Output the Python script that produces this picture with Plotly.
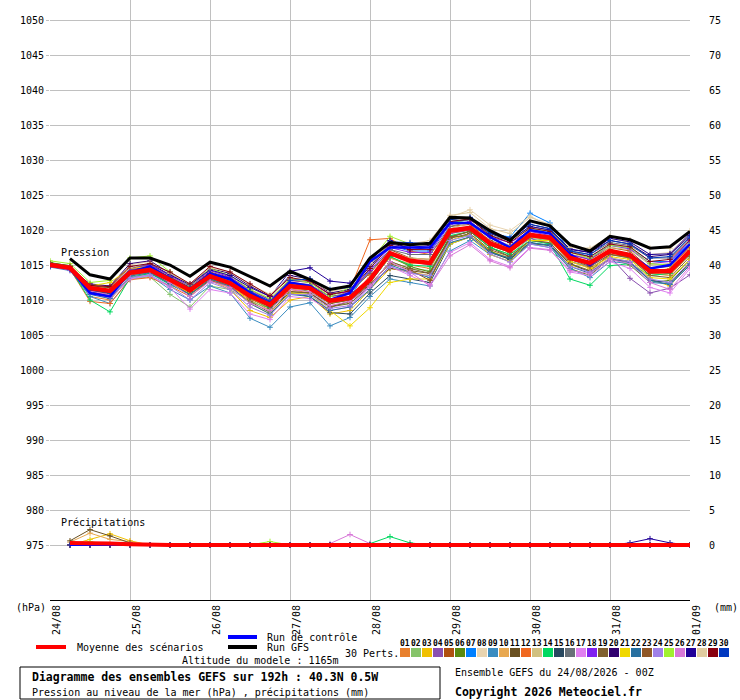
import pandas as pd
import plotly.graph_objects as go

# 6-hourly steps, 24/08 00Z -> 01/09 00Z (192h)
times = pd.date_range("2026-08-24 00:00", "2026-09-01 00:00", freq="6h")
day_ticks = pd.date_range("2026-08-24", "2026-09-01", freq="D")
day_labels = ["24/08", "25/08", "26/08", "27/08", "28/08", "29/08", "30/08", "31/08", "01/09"]

mean_slp = [1015.0, 1014.6, 1011.7, 1011.3, 1013.9, 1014.3, 1012.9, 1011.4, 1013.4, 1012.4, 1010.6,
            1009.3, 1012.0, 1011.7, 1009.9, 1010.3, 1012.9, 1016.7, 1015.6, 1015.3, 1019.9, 1020.3,
            1018.1, 1017.1, 1019.3, 1018.9, 1016.0, 1015.3, 1017.0, 1016.4, 1014.1, 1014.1, 1017.0]
gfs_slp = [None, 1015.9, 1013.6, 1013.0, 1016.0, 1016.0, 1015.0, 1013.4, 1015.4, 1014.7, 1013.4,
           1012.0, 1014.1, 1012.9, 1011.5, 1012.0, 1016.0, 1018.2, 1017.9, 1018.1, 1021.8, 1021.7,
           1019.9, 1018.5, 1021.3, 1020.6, 1017.9, 1017.0, 1019.1, 1018.6, 1017.4, 1017.6, 1019.8]
ctrl_slp = [1015.0, 1014.5, 1011.0, 1010.5, 1014.0, 1014.8, 1013.0, 1011.5, 1013.8, 1013.0, 1011.0,
            1009.5, 1012.5, 1012.0, 1010.0, 1011.0, 1015.5, 1017.5, 1017.5, 1017.5, 1021.0, 1021.0,
            1019.0, 1017.5, 1020.0, 1019.5, 1016.5, 1015.0, 1017.0, 1016.5, 1014.5, 1015.0, 1018.0]

perts_slp = [
    [1015.2, 1014.6, 1010.5, 1010.0, 1013.2, 1013.8, 1012.5, 1011.0, 1013.0, 1012.0, 1010.0, 1008.5, 1011.5, 1011.0, 1009.0, 1009.8, 1013.5, 1016.0, 1015.0, 1014.5, 1019.5, 1020.0, 1017.8, 1016.8, 1019.0, 1018.6, 1015.8, 1015.0, 1016.8, 1016.0, 1013.8, 1013.5, 1016.5],
    [1015.4, 1014.8, 1011.5, 1011.0, 1013.0, 1013.3, 1010.8, 1009.0, 1012.0, 1011.5, 1009.8, 1008.8, 1011.0, 1011.0, 1009.2, 1009.5, 1012.0, 1015.5, 1014.5, 1014.2, 1019.0, 1019.8, 1017.5, 1016.5, 1018.8, 1018.5, 1015.5, 1014.8, 1016.5, 1016.0, 1013.5, 1013.8, 1016.8],
    [1015.0, 1014.5, 1011.8, 1011.5, 1013.8, 1014.2, 1012.5, 1011.0, 1012.8, 1011.5, 1008.5, 1007.5, 1010.0, 1010.5, 1008.0, 1008.5, 1011.5, 1014.5, 1014.0, 1013.5, 1018.5, 1019.5, 1017.0, 1016.0, 1018.5, 1018.2, 1015.0, 1014.2, 1016.0, 1015.5, 1013.0, 1012.0, 1015.5],
    [1014.8, 1014.3, 1011.2, 1010.8, 1013.5, 1014.0, 1012.8, 1011.5, 1013.5, 1012.8, 1011.0, 1009.8, 1012.5, 1012.0, 1010.5, 1010.8, 1013.0, 1016.5, 1015.5, 1015.0, 1019.5, 1020.0, 1018.0, 1017.0, 1018.8, 1018.0, 1015.5, 1014.6, 1016.2, 1013.1, 1011.0, 1011.7, 1013.6],
    [1015.1, 1014.7, 1012.0, 1011.8, 1014.5, 1015.0, 1013.5, 1012.0, 1014.0, 1013.2, 1011.5, 1010.0, 1012.8, 1012.5, 1010.8, 1011.2, 1013.8, 1017.2, 1016.0, 1015.8, 1020.5, 1020.8, 1018.5, 1017.5, 1019.8, 1019.5, 1016.5, 1015.8, 1017.5, 1017.0, 1014.5, 1014.8, 1017.5],
    [1015.3, 1014.9, 1011.5, 1011.2, 1014.2, 1014.6, 1013.0, 1011.2, 1013.2, 1012.3, 1010.2, 1008.8, 1011.8, 1011.2, 1009.5, 1010.0, 1012.5, 1016.2, 1014.8, 1014.0, 1019.0, 1019.2, 1017.0, 1015.8, 1018.0, 1017.8, 1014.5, 1013.5, 1016.0, 1015.0, 1012.5, 1012.8, 1015.8],
    [1014.9, 1014.4, 1011.0, 1010.5, 1014.0, 1014.8, 1013.2, 1011.8, 1013.8, 1013.0, 1011.2, 1009.8, 1012.2, 1012.0, 1010.2, 1010.5, 1014.5, 1017.8, 1017.0, 1017.0, 1021.0, 1021.5, 1019.5, 1019.0, 1022.4, 1021.0, 1017.0, 1016.2, 1017.8, 1017.5, 1015.5, 1015.5, 1018.2],
    [1015.2, 1014.8, 1012.2, 1012.0, 1015.0, 1015.5, 1013.8, 1012.0, 1014.2, 1013.5, 1011.8, 1010.2, 1013.0, 1012.8, 1011.0, 1011.5, 1015.0, 1018.0, 1017.8, 1018.2, 1021.8, 1022.9, 1020.7, 1019.9, 1022.0, 1020.5, 1017.7, 1017.0, 1018.8, 1018.2, 1016.5, 1016.8, 1019.5],
    [1014.7, 1014.2, 1010.5, 1009.5, 1013.0, 1013.5, 1011.5, 1010.0, 1012.0, 1011.0, 1007.4, 1006.1, 1009.0, 1009.6, 1006.3, 1007.5, 1010.5, 1013.0, 1012.5, 1012.0, 1017.0, 1018.5, 1016.5, 1015.5, 1018.0, 1017.5, 1014.5, 1013.2, 1015.5, 1015.2, 1012.5, 1012.3, 1015.0],
    [1015.0, 1014.6, 1011.3, 1011.0, 1013.5, 1014.0, 1012.6, 1011.2, 1013.2, 1012.2, 1010.5, 1009.0, 1011.5, 1011.5, 1009.5, 1010.2, 1012.8, 1016.0, 1015.2, 1015.5, 1019.8, 1020.5, 1018.2, 1017.2, 1019.5, 1019.0, 1016.0, 1015.2, 1017.2, 1016.5, 1014.0, 1013.5, 1016.8],
    [1015.3, 1014.9, 1012.0, 1011.7, 1014.3, 1014.8, 1013.3, 1011.8, 1013.8, 1012.8, 1010.8, 1009.5, 1011.2, 1011.0, 1009.0, 1009.8, 1012.2, 1014.5, 1014.2, 1013.8, 1019.0, 1019.8, 1017.5, 1016.2, 1018.5, 1018.5, 1015.8, 1015.3, 1016.8, 1016.5, 1014.2, 1014.2, 1017.0],
    [1015.0, 1014.4, 1009.8, 1009.5, 1012.9, 1013.2, 1012.0, 1010.5, 1012.8, 1012.0, 1010.2, 1009.0, 1011.8, 1011.5, 1009.8, 1011.5, 1018.6, 1018.8, 1017.0, 1016.5, 1020.0, 1020.5, 1018.0, 1017.0, 1019.5, 1019.0, 1016.2, 1015.0, 1017.0, 1016.2, 1014.0, 1014.5, 1017.8],
    [1015.1, 1014.7, 1011.8, 1011.5, 1014.0, 1014.5, 1013.0, 1011.5, 1013.5, 1012.5, 1010.8, 1009.2, 1012.0, 1011.8, 1010.0, 1010.5, 1013.2, 1016.8, 1016.0, 1015.8, 1020.2, 1021.0, 1018.8, 1017.8, 1020.0, 1019.5, 1016.5, 1016.0, 1017.5, 1017.2, 1015.0, 1015.2, 1018.0],
    [1015.2, 1014.5, 1010.0, 1008.3, 1013.2, 1013.8, 1012.2, 1010.8, 1013.0, 1012.2, 1010.5, 1009.0, 1012.2, 1011.8, 1009.8, 1010.2, 1012.5, 1016.2, 1015.0, 1014.8, 1019.2, 1019.8, 1017.5, 1016.5, 1018.5, 1018.0, 1013.0, 1012.1, 1014.9, 1015.2, 1013.5, 1013.8, 1016.5],
    [1014.9, 1014.5, 1011.2, 1010.6, 1013.8, 1014.2, 1012.8, 1011.2, 1013.3, 1012.5, 1010.5, 1009.0, 1011.0, 1010.5, 1008.2, 1008.0, 1011.0, 1013.5, 1013.0, 1012.5, 1018.0, 1019.0, 1016.8, 1015.8, 1018.2, 1017.8, 1015.2, 1014.0, 1015.8, 1015.5, 1012.8, 1012.5, 1015.2],
    [1015.0, 1014.6, 1011.5, 1011.0, 1014.2, 1014.6, 1013.2, 1011.6, 1013.6, 1012.8, 1011.0, 1009.6, 1012.5, 1012.2, 1010.5, 1011.0, 1014.0, 1017.2, 1016.5, 1016.5, 1020.5, 1021.2, 1019.2, 1018.5, 1020.5, 1020.0, 1017.0, 1016.5, 1018.2, 1017.8, 1016.0, 1016.0, 1018.8],
    [1015.2, 1014.8, 1011.0, 1010.2, 1013.0, 1013.5, 1011.8, 1008.7, 1011.5, 1011.0, 1008.0, 1007.2, 1010.5, 1010.2, 1008.5, 1009.0, 1011.8, 1014.8, 1013.5, 1012.2, 1016.8, 1018.2, 1015.8, 1014.8, 1017.5, 1017.2, 1014.0, 1013.5, 1015.5, 1014.5, 1011.8, 1011.0, 1014.5],
    [1014.8, 1014.3, 1011.6, 1011.3, 1014.4, 1015.0, 1013.5, 1012.0, 1014.2, 1013.3, 1011.3, 1010.0, 1012.8, 1012.6, 1010.8, 1011.2, 1014.2, 1017.5, 1016.8, 1016.8, 1020.8, 1021.2, 1019.0, 1018.2, 1019.8, 1019.2, 1016.5, 1015.8, 1017.8, 1017.3, 1015.2, 1015.5, 1018.5],
    [1015.1, 1014.6, 1011.4, 1010.9, 1013.6, 1014.0, 1012.4, 1010.8, 1012.8, 1011.8, 1009.8, 1008.2, 1011.2, 1011.0, 1009.0, 1009.5, 1012.0, 1015.5, 1014.5, 1013.8, 1018.8, 1019.5, 1017.2, 1016.2, 1018.5, 1018.2, 1015.2, 1014.2, 1016.5, 1016.0, 1013.5, 1013.2, 1016.2],
    [1014.9, 1014.5, 1012.3, 1012.0, 1015.2, 1015.6, 1013.8, 1012.2, 1014.5, 1013.8, 1012.0, 1010.5, 1013.5, 1013.0, 1011.0, 1011.5, 1014.8, 1018.0, 1017.5, 1017.8, 1021.5, 1021.8, 1019.8, 1018.8, 1020.8, 1020.2, 1017.2, 1016.8, 1018.5, 1018.0, 1016.2, 1016.5, 1019.2],
    [1015.0, 1014.5, 1012.0, 1012.5, 1014.5, 1014.8, 1013.0, 1011.5, 1013.5, 1012.5, 1009.5, 1008.0, 1011.0, 1010.8, 1008.5, 1006.3, 1008.9, 1012.5, 1013.0, 1013.0, 1018.0, 1019.0, 1016.5, 1015.5, 1018.5, 1018.5, 1015.5, 1014.5, 1016.2, 1015.8, 1013.2, 1013.0, 1015.8],
    [1015.0, 1014.4, 1010.8, 1010.2, 1013.4, 1013.9, 1012.3, 1010.8, 1013.0, 1012.0, 1009.5, 1008.0, 1010.8, 1010.5, 1008.5, 1009.0, 1011.5, 1015.0, 1014.0, 1013.2, 1018.2, 1019.0, 1016.8, 1016.0, 1018.2, 1017.8, 1014.8, 1013.8, 1015.8, 1015.3, 1012.8, 1012.2, 1015.0],
    [1015.2, 1014.7, 1011.7, 1011.4, 1013.8, 1014.2, 1012.7, 1011.3, 1013.3, 1012.3, 1010.4, 1009.2, 1011.8, 1011.5, 1009.5, 1010.0, 1012.3, 1015.2, 1014.3, 1012.8, 1019.0, 1019.8, 1017.8, 1016.8, 1019.2, 1018.8, 1015.8, 1014.8, 1016.5, 1016.2, 1013.8, 1014.0, 1016.8],
    [1015.0, 1014.5, 1011.0, 1010.4, 1013.2, 1013.6, 1012.0, 1010.0, 1012.5, 1011.5, 1009.0, 1007.8, 1010.8, 1010.8, 1008.8, 1009.2, 1012.0, 1014.8, 1013.8, 1013.5, 1018.5, 1019.2, 1016.6, 1015.4, 1018.0, 1017.5, 1014.8, 1014.0, 1016.0, 1015.5, 1013.0, 1012.5, 1015.5],
    [1015.6, 1015.2, 1012.5, 1012.8, 1016.0, 1016.3, 1014.0, 1012.0, 1014.5, 1013.5, 1011.5, 1010.2, 1013.0, 1012.5, 1010.5, 1011.8, 1015.5, 1019.1, 1018.0, 1018.0, 1021.0, 1021.5, 1019.5, 1018.5, 1020.2, 1019.8, 1016.8, 1016.0, 1017.8, 1017.5, 1015.2, 1015.0, 1018.0],
    [1014.9, 1014.3, 1011.3, 1010.7, 1013.7, 1014.2, 1012.5, 1010.5, 1012.7, 1011.8, 1009.5, 1008.5, 1011.5, 1011.2, 1009.2, 1009.8, 1012.0, 1015.5, 1014.0, 1012.0, 1016.3, 1017.9, 1015.6, 1014.6, 1017.4, 1017.1, 1014.2, 1013.8, 1015.8, 1015.2, 1012.5, 1011.5, 1014.8],
    [1015.0, 1014.6, 1011.8, 1011.5, 1014.6, 1015.2, 1013.6, 1012.2, 1014.3, 1013.5, 1011.8, 1010.5, 1014.1, 1014.6, 1012.7, 1012.4, 1015.5, 1018.5, 1017.2, 1017.5, 1021.2, 1021.5, 1019.5, 1018.5, 1020.5, 1020.0, 1017.3, 1016.8, 1018.8, 1018.3, 1016.5, 1016.6, 1019.5],
    [1015.1, 1014.7, 1011.9, 1011.6, 1014.6, 1015.3, 1013.8, 1012.3, 1014.6, 1014.0, 1012.2, 1010.8, 1013.2, 1012.8, 1011.2, 1011.8, 1015.2, 1018.2, 1018.0, 1018.5, 1022.1, 1022.5, 1020.2, 1019.5, 1021.8, 1020.8, 1017.5, 1017.4, 1019.1, 1018.6, 1017.4, 1017.4, 1019.9],
    [1015.2, 1014.8, 1012.1, 1011.9, 1014.8, 1015.2, 1014.0, 1012.3, 1014.8, 1014.0, 1012.3, 1010.6, 1013.2, 1012.7, 1010.8, 1011.3, 1014.5, 1017.8, 1017.2, 1017.2, 1021.2, 1021.6, 1019.2, 1018.2, 1020.3, 1019.8, 1016.8, 1016.2, 1018.0, 1017.6, 1015.5, 1015.8, 1018.6],
    [1014.9, 1014.4, 1011.4, 1011.0, 1014.0, 1014.6, 1013.2, 1011.7, 1013.7, 1012.9, 1011.2, 1009.8, 1012.8, 1013.0, 1011.5, 1011.8, 1015.8, 1018.3, 1018.2, 1018.0, 1021.5, 1021.8, 1019.6, 1018.8, 1020.8, 1020.2, 1017.0, 1016.5, 1018.5, 1018.0, 1016.0, 1016.2, 1019.0],
]

pert_colors = ["#e8802e", "#86c46a", "#f0c000", "#8a50b0", "#b05010", "#5a8a10", "#0080ff", "#e8d4b0",
               "#3a8cc0", "#e8a850", "#6a5020", "#f06820", "#d0c080", "#00d860", "#284860", "#687078",
               "#e080f0", "#8020f0", "#806030", "#300070", "#f0d800", "#2870a0", "#905828", "#a080e8",
               "#a0f030", "#d878d8", "#200098", "#e0cca0", "#880010", "#0038c0"]
pert_names = ["01", "02", "03", "04", "05", "06", "07", "08", "09", "10", "11", "12", "13", "14", "15",
              "16", "17", "18", "19", "20", "21", "22", "23", "24", "25", "26", "27", "28", "29", "30"]

# precipitation (mm), from +6h to +192h
no_rain = [0, 0, 0, 0, 0, 0, 0, 0, 0, 0, 0, 0, 0, 0, 0, 0, 0, 0, 0, 0, 0, 0, 0, 0, 0, 0, 0, 0, 0, 0, 0, 0]
rain_03 = [0, 0.8, 1.6, 0.6, 0, 0, 0, 0, 0, 0, 0, 0, 0, 0, 0, 0, 0, 0, 0, 0, 0, 0, 0, 0, 0, 0, 0, 0, 0, 0, 0, 0]
rain_10 = [0.4, 1.7, 0.8, 0.5, 0, 0, 0, 0, 0, 0, 0, 0, 0, 0, 0, 0, 0, 0, 0, 0, 0, 0, 0, 0, 0, 0, 0, 0, 0, 0, 0, 0]
rain_11 = [0.6, 2.2, 1.3, 0.3, 0, 0, 0, 0, 0, 0, 0, 0, 0, 0, 0, 0, 0, 0, 0, 0, 0, 0, 0, 0, 0, 0, 0, 0, 0, 0, 0, 0]
rain_14 = [0, 0, 0, 0, 0, 0, 0, 0, 0, 0, 0, 0, 0, 0, 0, 0.2, 1.2, 0.3, 0, 0, 0, 0, 0, 0, 0, 0, 0, 0, 0, 0, 0, 0]
rain_25 = [0, 0.5, 0, 0, 0, 0, 0, 0, 0, 0, 0.5, 0, 0, 0, 0, 0, 0, 0, 0, 0, 0, 0, 0, 0, 0, 0, 0, 0, 0, 0, 0, 0]
rain_26 = [0, 0, 0, 0, 0, 0, 0, 0, 0, 0, 0, 0, 0, 0.2, 1.5, 0.2, 0, 0, 0, 0, 0, 0, 0, 0, 0, 0, 0, 0, 0, 0, 0, 0]
rain_27 = [0, 0, 0, 0, 0, 0, 0, 0, 0, 0, 0, 0, 0, 0, 0, 0, 0, 0, 0, 0, 0, 0, 0, 0, 0, 0, 0, 0, 0.3, 0.9, 0.3, 0]
rain_mean = [0.3, 0.3, 0.2, 0.1, 0, 0, 0, 0, 0, 0, 0, 0, 0, 0, 0, 0, 0, 0, 0, 0, 0, 0, 0, 0, 0, 0, 0, 0, 0, 0, 0, 0]
pert_rain = {"03": rain_03, "10": rain_10, "11": rain_11, "14": rain_14, "25": rain_25, "26": rain_26, "27": rain_27}

GRID = "#c0c0c0"
FONT = "DejaVu Sans Mono"
W, H = 740, 700
L, R, T, B = 50, 690, 0, 600


def px(x):
    return (x - L) / (R - L)


def py(y):
    return (B - y) / (B - T)


fig = go.Figure()
rain_times = times[1:]

for name, col, vals in zip(pert_names, pert_colors, perts_slp):
    fig.add_trace(go.Scatter(x=times, y=vals, mode="lines+markers", line=dict(color=col, width=1),
                             marker=dict(symbol="cross-thin", size=4, line=dict(color=col, width=1)),
                             showlegend=False, hoverinfo="skip"))
    fig.add_trace(go.Scatter(x=rain_times, y=pert_rain.get(name, no_rain), yaxis="y2", mode="lines+markers",
                             line=dict(color=col, width=1),
                             marker=dict(symbol="cross-thin", size=4, line=dict(color=col, width=1)),
                             showlegend=False, hoverinfo="skip"))

fig.add_trace(go.Scatter(x=times, y=ctrl_slp, mode="lines", line=dict(color="#0000ff", width=2.5),
                         showlegend=False))
fig.add_trace(go.Scatter(x=times, y=gfs_slp, mode="lines", line=dict(color="black", width=3),
                         showlegend=False))
fig.add_trace(go.Scatter(x=times, y=mean_slp, mode="lines", line=dict(color="#ff0000", width=4.5),
                         showlegend=False))
fig.add_trace(go.Scatter(x=rain_times, y=no_rain, yaxis="y2", mode="lines", line=dict(color="#0000ff", width=2),
                         showlegend=False))
fig.add_trace(go.Scatter(x=rain_times, y=rain_mean, yaxis="y2", mode="lines", line=dict(color="#ff0000", width=4),
                         showlegend=False))

shapes = []
annotations = []


def text(x, y, s, size=10, bold=False, anchor="left"):
    annotations.append(dict(x=px(x), y=py(y), xref="paper", yref="paper", text=f"<b>{s}</b>" if bold else s,
                            showarrow=False, xanchor=anchor, yanchor="middle",
                            font=dict(family=FONT, size=size, color="black")))


text(59, 252, "Pression")
text(59, 522, "Précipitations")
text(48, 607, "(hPa)", anchor="right")
text(712, 607, "(mm)")

# legend
shapes.append(dict(type="line", xref="paper", yref="paper", x0=px(36), x1=px(66), y0=py(647), y1=py(647),
                   line=dict(color="#ff0000", width=4)))
text(75, 647, "Moyenne des scénarios")
shapes.append(dict(type="line", xref="paper", yref="paper", x0=px(228), x1=px(257), y0=py(637), y1=py(637),
                   line=dict(color="#0000ff", width=4)))
text(265, 637, "Run de contrôle")
shapes.append(dict(type="line", xref="paper", yref="paper", x0=px(228), x1=px(257), y0=py(647), y1=py(647),
                   line=dict(color="black", width=4)))
text(265, 647, "Run GFS")
text(343, 653, "30 Perts.")
text(180, 660, "Altitude du modele : 1165m")
for k, (name, col) in enumerate(zip(pert_names, pert_colors)):
    x0 = 400 + 11 * k
    shapes.append(dict(type="rect", xref="paper", yref="paper", x0=px(x0), x1=px(x0 + 10), y0=py(657), y1=py(648),
                       fillcolor=col, line=dict(width=0)))
    text(x0 + 5, 643, name, size=8, bold=True, anchor="center")

shapes.append(dict(type="rect", xref="paper", yref="paper", x0=px(20), x1=px(440), y0=py(699), y1=py(667),
                   line=dict(color="black", width=1), fillcolor="rgba(0,0,0,0)"))
text(30, 677, "Diagramme des ensembles GEFS sur 192h : 40.3N 0.5W", size=11.5, bold=True)
text(30, 692, "Pression au niveau de la mer (hPa) , précipitations (mm)")
text(453, 672, "Ensemble GEFS du 24/08/2026 - 00Z")
text(453, 692, "Copyright 2026 Meteociel.fr", size=11.5, bold=True)

p_top = 1050 + 20 / 7
p_bot = 975 - 55 / 7

fig.update_layout(
    width=W, height=H,
    margin=dict(l=L, r=W - R, t=T, b=H - B),
    paper_bgcolor="white", plot_bgcolor="white",
    font=dict(family=FONT, size=10, color="black"),
    shapes=shapes, annotations=annotations,
    xaxis=dict(range=[times[0], times[-1]], tickvals=day_ticks, ticktext=day_labels, tickangle=-90,
               ticklabelshift=7, showgrid=True, gridcolor=GRID, gridwidth=1, showline=True,
               linecolor="black", linewidth=1, ticks="", tickfont=dict(family=FONT, size=10)),
    yaxis=dict(range=[p_bot, p_top], tickvals=list(range(975, 1051, 5)), showgrid=True, gridcolor=GRID,
               gridwidth=1, zeroline=False, ticks="outside", ticklen=3, tickcolor=GRID,
               tickfont=dict(family=FONT, size=10), showline=False),
    yaxis2=dict(range=[-55 / 7, 75 + 20 / 7], tickvals=list(range(0, 76, 5)), overlaying="y", side="right",
                showgrid=False, zeroline=False, ticks="", ticklabelstandoff=18,
                tickfont=dict(family=FONT, size=10), showline=False),
)

# the page's default 8px body margin would shift the whole chart
fig.write_html("out.html", config={"displayModeBar": False},
               post_script="document.body.style.margin = '0px';")
